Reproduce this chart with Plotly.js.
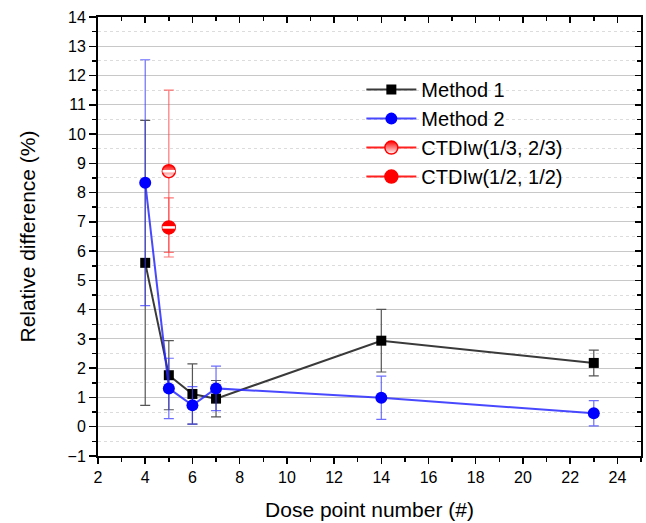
<!DOCTYPE html>
<html>
<head>
<meta charset="utf-8">
<script src="https://cdn.plot.ly/plotly-3.0.1.min.js"></script>
<style>html,body{margin:0;padding:0;background:#fff;}#chart{width:646px;height:523px;}</style>
</head>
<body>
<div id="chart"></div>
<script>
// Data
const m1X = [4, 5, 6, 7, 14, 23];
const m1Y = [5.6, 1.76, 1.12, 0.96, 2.94, 2.18];
const m1Err = [4.87, 1.18, 1.03, 0.62, 1.07, 0.44];

const m2X = [4, 5, 6, 7, 14, 23];
const m2Y = [8.34, 1.31, 0.73, 1.31, 0.99, 0.46];
const m2Err = [4.2, 1.03, 0.64, 0.76, 0.74, 0.43];

const c13X = [5];
const c13Y = [8.73];
const c13Err = [2.77];

const c12X = [5];
const c12Y = [6.81];
const c12Err = [1.01];

const names = ['Method 1', 'Method 2', 'CTDIw(1/3, 2/3)', 'CTDIw(1/2, 1/2)'];

const traces = [
  {
    x: m1X, y: m1Y, name: names[0], mode: 'lines+markers', type: 'scatter',
    line: {color: '#3a3a3a', width: 2},
    marker: {symbol: 'square', color: '#000', size: 10},
    error_y: {type: 'data', array: m1Err, visible: true, color: '#555', thickness: 1.2, width: 5}
  },
  {
    x: m2X, y: m2Y, name: names[1], mode: 'lines+markers', type: 'scatter',
    line: {color: 'rgba(40,40,255,0.85)', width: 2},
    marker: {symbol: 'circle', color: '#0000ff', size: 12},
    error_y: {type: 'data', array: m2Err, visible: true, color: 'rgba(60,60,255,0.75)', thickness: 1.2, width: 5}
  },
  {
    x: c13X, y: c13Y, name: names[2], mode: 'lines+markers', type: 'scatter',
    line: {color: '#ff2020', width: 2},
    marker: {symbol: 'circle', color: '#ff0000', size: 13, gradient: {type: 'vertical', color: '#ffffff'}, line: {color: '#ff0000', width: 1.5}},
    error_y: {type: 'data', array: c13Err, visible: true, color: 'rgba(255,60,60,0.7)', thickness: 1.2, width: 5}
  },
  {
    x: c12X, y: c12Y, name: names[3], mode: 'lines+markers', type: 'scatter',
    line: {color: '#ff2020', width: 2},
    marker: {symbol: 'circle', color: '#ff0000', size: 13, line: {color: '#ff0000', width: 1.5}},
    error_y: {type: 'data', array: c12Err, visible: true, color: 'rgba(255,60,60,0.7)', thickness: 1.2, width: 5}
  },
  // white band inside the half-filled red markers
  {
    x: c13X, y: c13Y, mode: 'markers', type: 'scatter', showlegend: false, hoverinfo: 'skip',
    marker: {symbol: 'line-ew', size: 9, line: {color: '#ffffff', width: 2.5}}
  },
  {
    x: c12X, y: c12Y, mode: 'markers', type: 'scatter', showlegend: false, hoverinfo: 'skip',
    marker: {symbol: 'line-ew', size: 9, line: {color: '#ffffff', width: 2.5}}
  },
  // invisible trace to create mirrored axes with inside ticks
  {
    x: [2], y: [-1], xaxis: 'x2', yaxis: 'y2', mode: 'markers', showlegend: false, hoverinfo: 'skip',
    marker: {opacity: 0}
  }
];

const font = {family: 'Arial, Liberation Sans, sans-serif', color: '#000'};

const layout = {
  width: 646, height: 523,
  margin: {l: 98, r: 5, t: 17, b: 67},
  paper_bgcolor: '#fff', plot_bgcolor: '#fff',
  font: font,
  showlegend: true,
  legend: {
    x: 0.485, y: 0.879, xanchor: 'left', yanchor: 'top',
    font: {family: font.family, size: 20, color: '#000'},
    bgcolor: 'rgba(255,255,255,0)', borderwidth: 0,
    itemwidth: 50, tracegroupgap: 0
  },
  xaxis: {
    range: [2, 25], tick0: 2, dtick: 2, showgrid: false, zeroline: false,
    showline: true, linecolor: '#000', linewidth: 2, mirror: true,
    ticks: 'outside', ticklen: 6, tickwidth: 1.5, tickcolor: '#000',
    tickfont: {family: font.family, size: 16, color: '#000'},
    minor: {dtick: 1, ticks: 'outside', ticklen: 4, tickwidth: 1.5, tickcolor: '#000', showgrid: false},
    title: {text: 'Dose point number (#)', font: {family: font.family, size: 21, color: '#000'}, standoff: 17}
  },
  yaxis: {
    range: [-1, 14], tick0: 0, dtick: 1, zeroline: false,
    showgrid: true, gridcolor: '#c8c8c8', gridwidth: 1,
    showline: true, linecolor: '#000', linewidth: 2, mirror: true,
    ticks: 'outside', ticklen: 7, tickwidth: 1.5, tickcolor: '#000',
    tickfont: {family: font.family, size: 16, color: '#000'},
    minor: {dtick: 0.5, ticks: 'outside', ticklen: 4, tickwidth: 1.5, tickcolor: '#000', showgrid: true, gridcolor: '#dcdcdc', griddash: 'dot', gridwidth: 1},
    title: {text: 'Relative difference (%)', font: {family: font.family, size: 21, color: '#000'}, standoff: 26}
  },
  xaxis2: {
    overlaying: 'x', side: 'top', anchor: 'y2', range: [2, 25], tick0: 2, dtick: 2,
    showgrid: false, zeroline: false, showticklabels: false,
    ticks: 'inside', ticklen: 6, tickwidth: 1.5, tickcolor: '#000',
    minor: {dtick: 1, ticks: 'inside', ticklen: 4, tickwidth: 1.5, tickcolor: '#000', showgrid: false}
  },
  yaxis2: {
    overlaying: 'y', side: 'right', anchor: 'x2', range: [-1, 14], tick0: 0, dtick: 1,
    showgrid: false, zeroline: false, showticklabels: false,
    ticks: 'inside', ticklen: 6, tickwidth: 1.5, tickcolor: '#000',
    minor: {dtick: 0.5, ticks: 'inside', ticklen: 4, tickwidth: 1.5, tickcolor: '#000', showgrid: false}
  }
};

Plotly.newPlot('chart', traces, layout, {displayModeBar: false, staticPlot: true});
</script>
</body>
</html>
